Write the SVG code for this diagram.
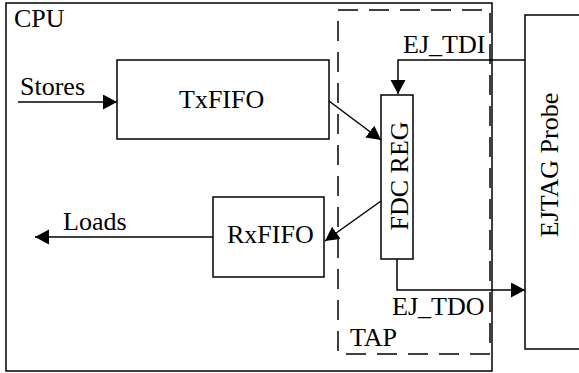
<svg xmlns="http://www.w3.org/2000/svg" width="579" height="373" viewBox="0 0 579 373">
<style>
.box{fill:none;stroke:#000;stroke-width:1.5}
.dash{fill:none;stroke:#000;stroke-width:1.5;stroke-dasharray:20,11}
.ln{fill:none;stroke:#000;stroke-width:1.5;marker-end:url(#ah)}
text{font-family:"Liberation Serif","Times New Roman",serif;font-size:26px;fill:#000}
</style>
<defs>
<marker id="ah" markerUnits="userSpaceOnUse" markerWidth="15" markerHeight="16" refX="14" refY="7.5" orient="auto" viewBox="0 0 15 16">
<path d="M0,0 L14,7.5 L0,15 z" fill="#000"/>
</marker>
</defs>
<rect width="579" height="373" fill="#fff"/>
<g id="cpu">
<rect class="box" x="6" y="3" width="486" height="368"/>
<text x="14" y="27">CPU</text>
</g>
<g id="tap">
<rect class="dash" x="338" y="10" width="152" height="344"/>
<text x="350" y="346">TAP</text>
</g>
<g id="txfifo">
<rect class="box" x="117" y="60" width="212" height="79"/>
<text x="179" y="108">TxFIFO</text>
</g>
<g id="rxfifo">
<rect class="box" x="213" y="197" width="111" height="80"/>
<text x="227" y="243">RxFIFO</text>
</g>
<g id="fdcreg">
<rect class="box" x="381" y="95" width="32" height="164"/>
<text transform="translate(408,176) rotate(-90)" text-anchor="middle">FDC REG</text>
</g>
<g id="probe">
<rect class="box" x="525" y="15" width="80" height="334"/>
<text transform="translate(558,165) rotate(-90)" text-anchor="middle">EJTAG Probe</text>
</g>
<g id="connectors">
<line class="ln" x1="18" y1="102" x2="117" y2="102"/>
<text x="20" y="95">Stores</text>
<line class="ln" x1="329" y1="101" x2="381" y2="140"/>
<line class="ln" x1="381" y1="201" x2="325" y2="241"/>
<line class="ln" x1="213" y1="237" x2="35" y2="237"/>
<text x="63" y="230">Loads</text>
<polyline class="ln" points="525,60 398,60 398,94"/>
<text x="403" y="53">EJ_TDI</text>
<polyline class="ln" points="397,259 397,290 525,290"/>
<text x="392" y="315">EJ_TDO</text>
</g>
</svg>
